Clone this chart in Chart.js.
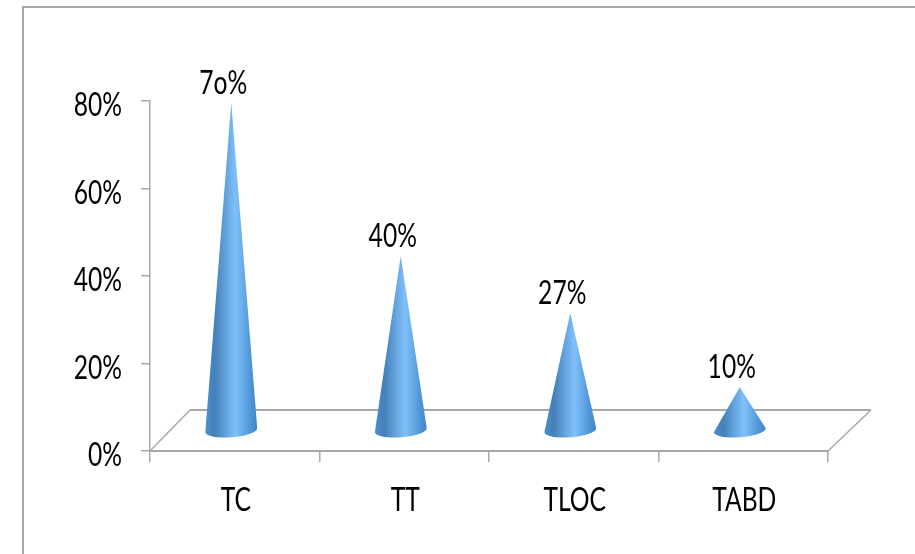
<!DOCTYPE html>
<html>
<head>
<meta charset="utf-8">
<script src="https://cdn.jsdelivr.net/npm/chart.js@4"></script>
<style>
    html, body { margin: 0; padding: 0; background: #fff; overflow: hidden; }
    #frame { position: absolute; left: 22px; top: 6px; width: 900px; height: 560px; border-left: 2px solid #a8a8a8; border-top: 2px solid #a8a8a8; }
    canvas { position: absolute; left: 0; top: 0; }
</style>
</head>
<body>
<div id="frame"></div>
<canvas id="cones" width="915" height="554"></canvas>
<script>
const categories = ["TC", "TT", "TLOC", "TABD"];
const coneHeights = [75, 40, 27, 10];
const valueLabels = ["7o%", "40%", "27%", "10%"];
const yTicks = [0, 20, 40, 60, 80];

const gray = "#a8a8a8";
const font = "32px Lato, sans-serif";
const squeeze = 0.77; // original text is taller and narrower than Lato

// the 3d look: cones stand on a floor behind the axis line
const coneShiftX = -3.5;
const coneShiftY = -20;
const coneHalfWidth = 26;

function drawText(ctx, text, x, y, align) {
    ctx.save();
    ctx.translate(x, y);
    ctx.scale(squeeze, 1);
    ctx.fillStyle = "#000";
    ctx.font = font;
    ctx.textAlign = align;
    ctx.textBaseline = "alphabetic";
    ctx.fillText(text, 0, 0);
    ctx.restore();
}

const floorPlugin = {
    id: "floor",
    beforeDatasetsDraw(chart) {
        const ctx = chart.ctx;
        const a = chart.chartArea;
        ctx.save();
        ctx.strokeStyle = gray;
        ctx.lineWidth = 1.5;
        ctx.beginPath();
        ctx.moveTo(a.left, a.bottom);
        ctx.lineTo(a.left + 40, a.bottom - 41);
        ctx.stroke();
        ctx.beginPath();
        ctx.moveTo(a.right, a.bottom);
        ctx.lineTo(a.right + 43, a.bottom - 41);
        ctx.stroke();
        ctx.lineWidth = 2;
        ctx.beginPath();
        ctx.moveTo(a.left + 40, a.bottom - 41);
        ctx.lineTo(a.right + 43, a.bottom - 41);
        ctx.stroke();
        ctx.restore();
    },
};

const conePlugin = {
    id: "cone",
    afterDatasetsDraw(chart) {
        const ctx = chart.ctx;
        chart.getDatasetMeta(0).data.forEach((bar, i) => {
            const cx = bar.x + coneShiftX;
            const baseY = bar.base + coneShiftY;
            const tipY = bar.y + coneShiftY;

            const grad = ctx.createLinearGradient(cx - coneHalfWidth, 0, cx + coneHalfWidth, 0);
            grad.addColorStop(0, "#4a8fd0");
            grad.addColorStop(0.18, "#4580b8");
            grad.addColorStop(0.58, "#7fc0fb");
            grad.addColorStop(0.85, "#5298d9");
            grad.addColorStop(1, "#4285c5");

            ctx.save();
            ctx.fillStyle = grad;
            ctx.beginPath();
            ctx.moveTo(cx, tipY);
            ctx.lineTo(cx + coneHalfWidth, baseY - 2);
            ctx.ellipse(cx, baseY, coneHalfWidth, 7, -0.08, 0, Math.PI);
            ctx.closePath();
            ctx.fill();
            ctx.restore();

            drawText(ctx, valueLabels[i], cx - 8, tipY - 9, "center");
        });

        // axis labels, squeezed like the value labels
        const xScale = chart.scales.x;
        const yScale = chart.scales.y;
        categories.forEach((name, i) => {
            drawText(ctx, name, xScale.getPixelForValue(i) + 1, xScale.bottom - 43, "center");
        });
        yTicks.forEach((v) => {
            drawText(ctx, v + "%", 122, yScale.getPixelForValue(v) + 15, "right");
        });
    },
};

new Chart(document.getElementById("cones"), {
    type: "bar",
    data: {
        labels: categories,
        datasets: [{ data: coneHeights, backgroundColor: "transparent" }],
    },
    options: {
        responsive: false,
        animation: false,
        layout: { padding: { top: 101, right: 87 } },
        plugins: { legend: { display: false }, tooltip: { enabled: false } },
        scales: {
            x: {
                grid: { drawOnChartArea: false, color: gray, lineWidth: 1.5, tickLength: 11 },
                border: { color: gray, width: 2 },
                ticks: { display: false },
                afterFit(scale) { scale.height = 103; },
            },
            y: {
                min: 0,
                max: 80,
                afterBuildTicks(scale) { scale.ticks = yTicks.map((v) => ({ value: v })); },
                grid: { drawOnChartArea: false, color: gray, lineWidth: 1.5, tickLength: 9 },
                border: { color: gray, width: 1.5 },
                ticks: { display: false },
                afterFit(scale) { scale.width = 150; },
            },
        },
    },
    plugins: [floorPlugin, conePlugin],
});
</script>
</body>
</html>
